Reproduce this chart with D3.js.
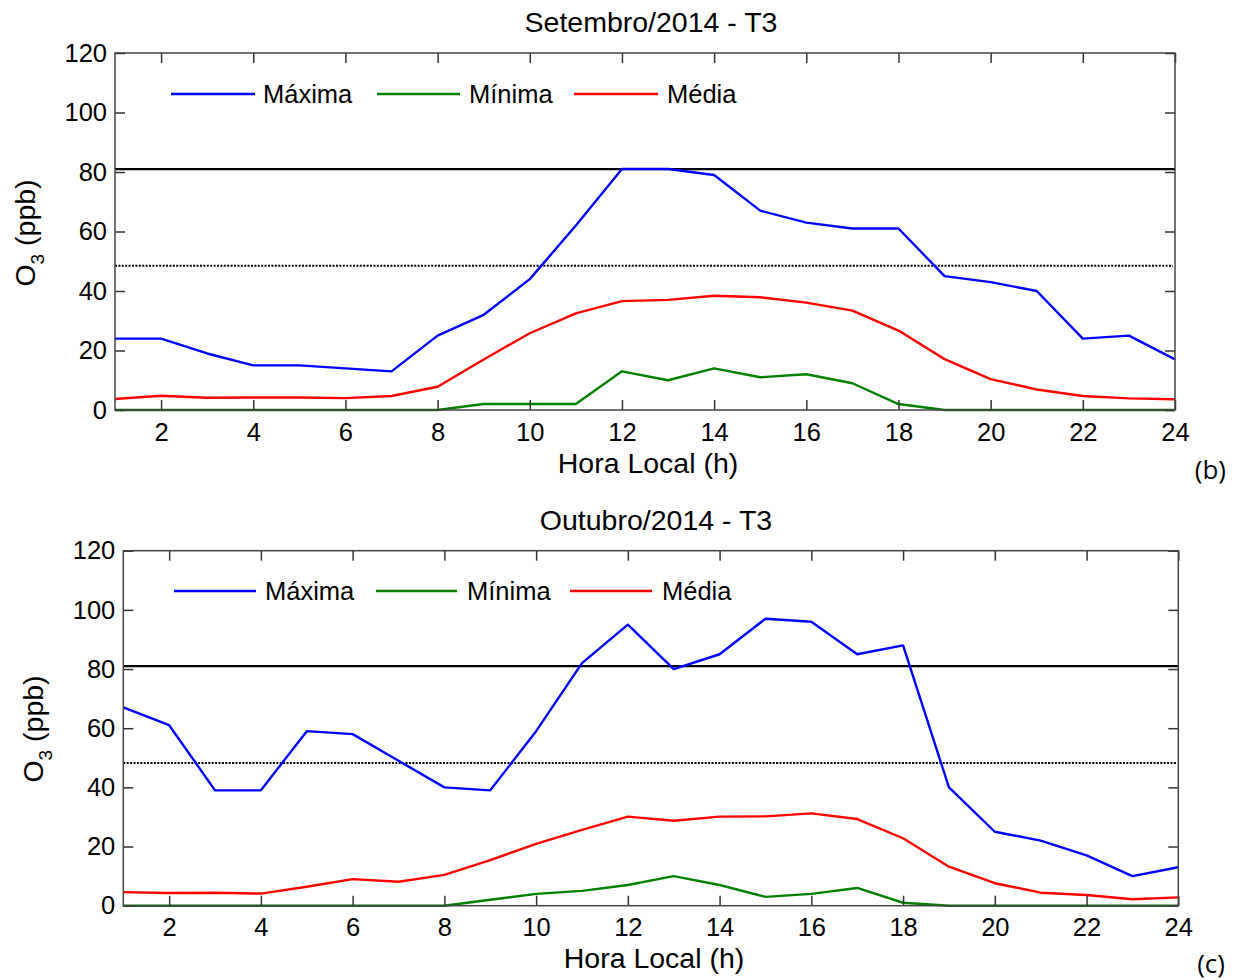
<!DOCTYPE html>
<html>
<head>
<meta charset="utf-8">
<script src="https://cdn.jsdelivr.net/npm/d3@7"></script>
<style>
  html, body { margin: 0; padding: 0; background: #fff; }
  svg { display: block; font-family: "Liberation Sans", Arial, sans-serif; }
</style>
</head>
<body>
<svg id="chart" width="1238" height="980"></svg>
<script>
// Hourly ozone (ppb) at station T3
const hours = [1, 2, 3, 4, 5, 6, 7, 8, 9, 10, 11, 12, 13, 14, 15, 16, 17, 18, 19, 20, 21, 22, 23, 24];
const xTicks = [2, 4, 6, 8, 10, 12, 14, 16, 18, 20, 22, 24];
const yTicks = [0, 20, 40, 60, 80, 100, 120];
const seriesNames = ["Máxima", "Mínima", "Média"];
const seriesColors = ["#0000ff", "#008000", "#ff0000"];

// Setembro/2014
const setMax = [24, 24, 19, 15, 15, 14, 13, 25, 32, 44, 62, 81, 81, 79, 67, 63, 61, 61, 45, 43, 40, 24, 25, 17];
const setMin = [0, 0, 0, 0, 0, 0, 0, 0, 2, 2, 2, 13, 10, 14, 11, 12, 9, 2, 0, 0, 0, 0, 0, 0];
const setMed = [3.7, 4.8, 4.1, 4.2, 4.2, 4.0, 4.7, 7.8, 17.0, 25.8, 32.5, 36.6, 37.0, 38.4, 37.9, 36.1, 33.4, 26.7, 17.1, 10.4, 6.9, 4.7, 3.9, 3.6];
const setLimit = 81;
const setRef = 48.5;

// Outubro/2014
const outMax = [67, 61, 39, 39, 59, 58, 49, 40, 39, 59, 82, 95, 80, 85, 97, 96, 85, 88, 40, 25, 22, 17, 10, 13];
const outMin = [0, 0, 0, 0, 0, 0, 0, 0, 2, 4, 5, 7, 10, 7, 3, 4, 6, 1, 0, 0, 0, 0, 0, 0];
const outMed = [4.6, 4.3, 4.4, 4.1, 6.4, 9.0, 8.1, 10.4, 15.4, 20.9, 25.6, 30.1, 28.7, 30.1, 30.2, 31.2, 29.3, 22.8, 13.2, 7.6, 4.4, 3.6, 2.2, 2.8];
const outLimit = 81;
const outRef = 48.2;

const svg = d3.select("#chart");

const panels = [
  {
    title: "Setembro/2014 - T3", tag: "(b)",
    series: [setMax, setMin, setMed], limit: setLimit, ref: setRef,
    left: 115, top: 53, width: 1060, height: 357,
    titleX: 651, titleY: 32, xLabelX: 648, xLabelY: 473,
    yLabelX: 35, yLabelY: 233, tagX: 1226, tagY: 479,
    legendY: 94, legend: [[171, 255, 263], [377, 460, 469], [574, 658, 667]]
  },
  {
    title: "Outubro/2014 - T3", tag: "(c)",
    series: [outMax, outMin, outMed], limit: outLimit, ref: outRef,
    left: 123.3, top: 550.7, width: 1055, height: 355,
    titleX: 656, titleY: 530, xLabelX: 654, xLabelY: 968,
    yLabelX: 43, yLabelY: 729, tagX: 1225, tagY: 973,
    legendY: 591, legend: [[174, 256, 265], [376, 457, 467], [570, 652, 662]]
  }
];

panels.forEach(p => {
  const x = d3.scaleLinear().domain([1, 24]).range([p.left, p.left + p.width]);
  const y = d3.scaleLinear().domain([0, 120]).range([p.top + p.height, p.top]);

  const g = svg.append("g");

  // reference levels
  g.append("line")
    .attr("x1", x(1)).attr("x2", x(24))
    .attr("y1", y(p.limit)).attr("y2", y(p.limit))
    .attr("stroke", "#000").attr("stroke-width", 2.2);
  g.append("line")
    .attr("x1", x(1)).attr("x2", x(24) - 2)
    .attr("y1", y(p.ref)).attr("y2", y(p.ref))
    .attr("stroke", "#000").attr("stroke-width", 2)
    .attr("stroke-dasharray", "2,1.4");

  // series lines
  const line = d3.line().x((d, i) => x(hours[i])).y(d => y(d));
  p.series.forEach((vals, k) => {
    g.append("path")
      .datum(vals)
      .attr("d", line)
      .attr("fill", "none")
      .attr("stroke", seriesColors[k])
      .attr("stroke-width", 2.4)
      .attr("stroke-linejoin", "round");
  });

  // axes with inward ticks
  const styleAxis = sel => {
    sel.select(".domain").remove();
    sel.selectAll(".tick line").attr("stroke", "#333").attr("stroke-width", 1.5);
    sel.selectAll(".tick text").attr("fill", "#000").style("font-size", "25.5px")
      .style("font-family", "'Liberation Sans', Arial, sans-serif");
  };

  g.append("g")
    .attr("transform", `translate(0,${p.top + p.height})`)
    .call(d3.axisBottom(x).tickValues(xTicks).tickSizeInner(-10).tickSizeOuter(0).tickPadding(12.5))
    .call(styleAxis);
  g.append("g")
    .attr("transform", `translate(0,${p.top})`)
    .call(d3.axisTop(x).tickValues(xTicks).tickSizeInner(-10).tickSizeOuter(0).tickFormat(""))
    .call(styleAxis);
  g.append("g")
    .attr("transform", `translate(${p.left},0)`)
    .call(d3.axisLeft(y).tickValues(yTicks).tickSizeInner(-10).tickSizeOuter(0).tickPadding(8))
    .call(styleAxis);
  g.append("g")
    .attr("transform", `translate(${p.left + p.width},0)`)
    .call(d3.axisRight(y).tickValues(yTicks).tickSizeInner(-10).tickSizeOuter(0).tickFormat(""))
    .call(styleAxis);

  // frame
  g.append("rect")
    .attr("x", p.left).attr("y", p.top)
    .attr("width", p.width).attr("height", p.height)
    .attr("fill", "none").attr("stroke", "#444").attr("stroke-width", 1.5);

  // legend
  seriesNames.forEach((name, k) => {
    const [x1, x2, tx] = p.legend[k];
    g.append("line")
      .attr("x1", x1).attr("x2", x2)
      .attr("y1", p.legendY).attr("y2", p.legendY)
      .attr("stroke", seriesColors[k]).attr("stroke-width", 2.4);
    g.append("text")
      .attr("x", tx).attr("y", p.legendY + 9)
      .style("font-size", "25.5px")
      .text(name);
  });

  // titles and labels
  g.append("text")
    .attr("x", p.titleX).attr("y", p.titleY)
    .attr("text-anchor", "middle")
    .style("font-size", "28.5px")
    .text(p.title);

  g.append("text")
    .attr("x", p.xLabelX).attr("y", p.xLabelY)
    .attr("text-anchor", "middle")
    .style("font-size", "28.5px")
    .text("Hora Local (h)");

  const yl = g.append("text")
    .attr("transform", `translate(${p.yLabelX},${p.yLabelY}) rotate(-90)`)
    .attr("text-anchor", "middle")
    .style("font-size", "28.5px");
  yl.append("tspan").text("O");
  yl.append("tspan").attr("dy", 9).style("font-size", "19px").text("3");
  yl.append("tspan").attr("dy", -9).text(" (ppb)");

  g.append("text")
    .attr("x", p.tagX).attr("y", p.tagY)
    .attr("text-anchor", "end")
    .style("font-family", "'Open Sans', sans-serif")
    .style("font-size", "26px")
    .text(p.tag);
});
</script>
</body>
</html>
